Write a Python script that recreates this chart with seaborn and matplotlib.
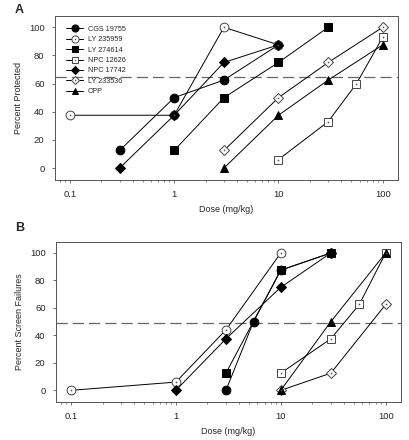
import matplotlib
matplotlib.use("Agg")
import matplotlib.pyplot as plt
import seaborn as sns
import numpy as np
import pandas as pd
from matplotlib.lines import Line2D
from matplotlib.legend_handler import HandlerTuple

# ---------------- data ----------------
names = ["CGS 19755", "LY 235959", "LY 274614", "NPC 12626", "NPC 17742", "LY 233536", "CPP"]

# Panel A: percent protected
a_dose = {
    "CGS 19755": [0.3, 1, 3, 10],
    "LY 235959": [0.1, 1, 3, 10],
    "LY 274614": [1, 3, 10, 30],
    "NPC 12626": [10, 30, 56, 100],
    "NPC 17742": [0.3, 1, 3, 10],
    "LY 233536": [3, 10, 30, 100],
    "CPP": [3, 10, 30, 100],
}
a_val = {
    "CGS 19755": [12.5, 50, 62.5, 87.5],
    "LY 235959": [37.5, 37.5, 100, 87.5],
    "LY 274614": [12.5, 50, 75, 100],
    "NPC 12626": [6, 33, 60, 93],
    "NPC 17742": [0, 37.5, 75, 87.5],
    "LY 233536": [12.5, 50, 75, 100],
    "CPP": [0, 37.5, 62.5, 87.5],
}
a_thresh = 65

# Panel B: percent screen failures
b_dose = {
    "CGS 19755": [3, 5.5, 10, 30],
    "LY 235959": [0.1, 1, 3, 10],
    "LY 274614": [3, 10, 30],
    "NPC 12626": [10, 30, 56, 100],
    "NPC 17742": [1, 3, 10, 30],
    "LY 233536": [10, 30, 100],
    "CPP": [10, 30, 100],
}
b_val = {
    "CGS 19755": [0, 50, 87.5, 100],
    "LY 235959": [0, 6, 44, 100],
    "LY 274614": [12.5, 87.5, 100],
    "NPC 12626": [12.5, 37.5, 62.5, 100],
    "NPC 17742": [0, 37.5, 75, 100],
    "LY 233536": [0, 12.5, 62.5],
    "CPP": [0, 50, 100],
}
b_thresh = 49

yticks = [0, 20, 40, 60, 80, 100]
xticks = [0.1, 1, 10, 100]
xticklabels = ["0.1", "1", "10", "100"]

# ---------------- style ----------------
markers = {"CGS 19755": "o", "LY 235959": "o", "LY 274614": "s", "NPC 12626": "s",
           "NPC 17742": "D", "LY 233536": "D", "CPP": "^"}
filled = {"CGS 19755": True, "LY 235959": False, "LY 274614": True, "NPC 12626": False,
          "NPC 17742": True, "LY 233536": False, "CPP": True}
msize = {"o": 6.3, "s": 5.4, "D": 4.8, "^": 6.0}

sns.set_theme(style="ticks")
plt.rcParams["font.family"] = ["Liberation Sans", "DejaVu Sans"]

fig = plt.figure(figsize=(4.1, 4.4), dpi=100)
W, H = 410, 440
axA = fig.add_axes([55 / W, 1 - 180 / H, (398 - 55) / W, (180 - 16) / H])
axB = fig.add_axes([56 / W, 1 - 402 / H, (401 - 56) / W, (402 - 242) / H])


def draw(ax, dose, val, thresh, ylabel):
    ax.set_xscale("log")
    for n in names:
        df = pd.DataFrame({"dose": dose[n], "val": val[n]})
        m = markers[n]
        fc = "black" if filled[n] else "white"
        ec = "black" if filled[n] else "#444444"
        sns.lineplot(data=df, x="dose", y="val", ax=ax, estimator=None, sort=True,
                     color="black", linewidth=0.7, marker=m, markersize=msize[m],
                     markerfacecolor=fc, markeredgecolor=ec, markeredgewidth=0.7,
                     zorder=3, legend=False)
        if not filled[n]:
            sns.scatterplot(data=df, x="dose", y="val", ax=ax, color="#555555",
                            s=1.5, linewidth=0, zorder=4, legend=False)
    ax.axhline(thresh, color="#666666", linewidth=0.9, dashes=(9, 4), zorder=2)
    ax.set_xlim(0.072, 140)
    ax.set_ylim(-8.5, 108)
    ax.set_xticks(xticks)
    ax.set_xticklabels(xticklabels)
    ax.set_yticks(yticks)
    ax.set_xlabel("Dose (mg/kg)", fontsize=6.5, labelpad=4)
    ax.set_ylabel(ylabel, fontsize=6.5, labelpad=4)
    ax.tick_params(axis="both", labelsize=6.8, length=2.5, width=0.6, pad=5, color="#555555")
    ax.tick_params(axis="x", which="minor", length=1.5, width=0.5, color="#555555")
    for s in ax.spines.values():
        s.set_linewidth(0.7)
        s.set_color("#555555")


draw(axA, a_dose, a_val, a_thresh, "Percent Protected")
draw(axB, b_dose, b_val, b_thresh, "Percent Screen Failures")

# legend for panel A
handles = []
for n in names:
    m = markers[n]
    fc = "black" if filled[n] else "white"
    ec = "black" if filled[n] else "#444444"
    h = Line2D([], [], color="black", linewidth=0.7, marker=m, markersize=msize[m] * 0.82,
               markerfacecolor=fc, markeredgecolor=ec, markeredgewidth=0.7)
    if filled[n]:
        handles.append(h)
    else:
        d = Line2D([], [], color="none", linestyle="none", marker="o", markersize=1.1,
                   markerfacecolor="#555555", markeredgewidth=0)
        handles.append((h, d))
axA.legend(handles, names, loc="upper left", bbox_to_anchor=(11 / 343, 0.94),
           frameon=False, fontsize=5.2, handlelength=2.4, handletextpad=0.6,
           labelspacing=0.46, borderaxespad=0, borderpad=0,
           handler_map={tuple: HandlerTuple(ndivide=1, pad=0)})

fig.text(15 / W, 1 - 10 / H, "A", fontsize=9, fontweight="bold", va="center", ha="left")
fig.text(15 / W, 1 - 228 / H, "B", fontsize=9, fontweight="bold", va="center", ha="left")

fig.savefig("out.png", dpi=100)
